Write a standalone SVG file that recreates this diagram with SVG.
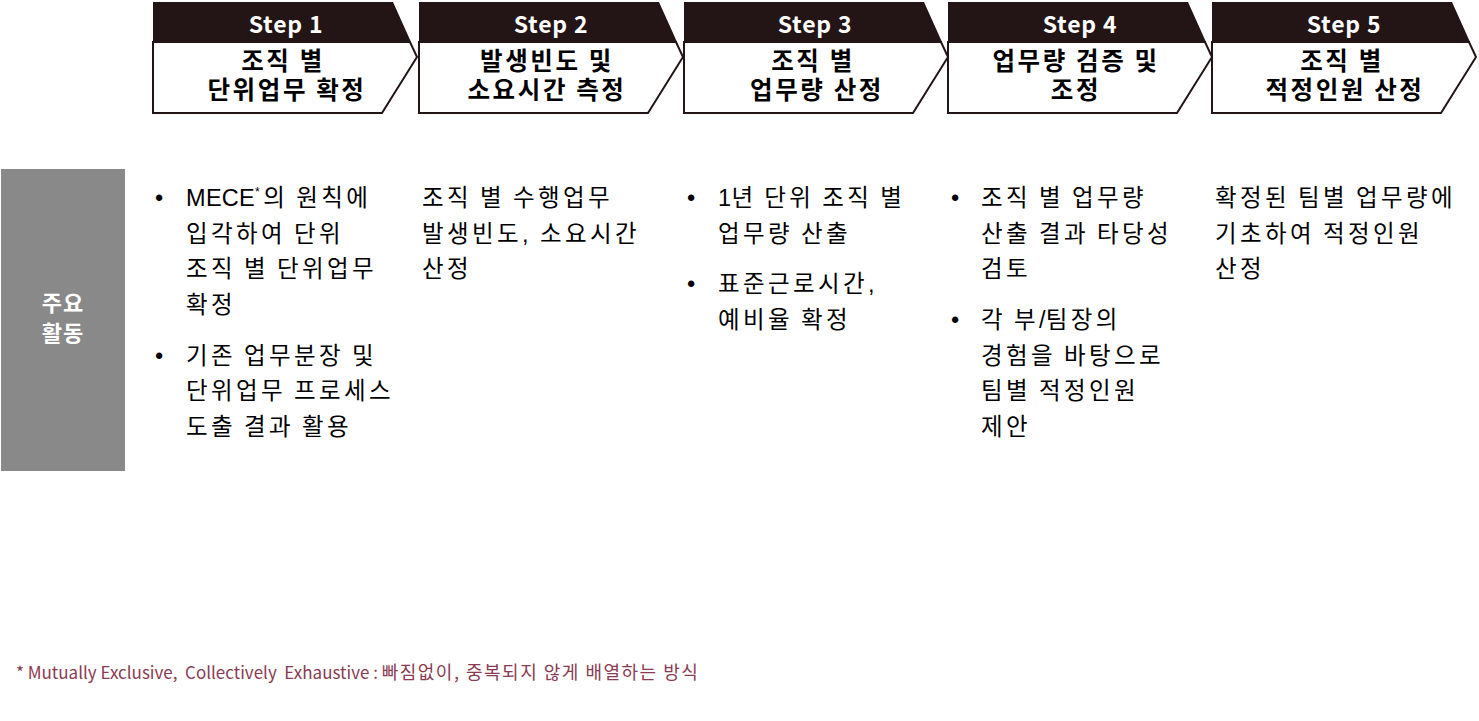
<svg xmlns="http://www.w3.org/2000/svg" width="1479" height="721" viewBox="0 0 1479 721">
<style>
.band{fill:#231416;}
.body{fill:#ffffff;stroke:#231416;stroke-width:2;}
.stepno{font-family:"Noto Sans CJK KR","Liberation Sans",sans-serif;font-weight:bold;font-size:23px;letter-spacing:0.8px;fill:#ffffff;text-anchor:middle;}
.title{font-family:"Noto Sans CJK KR","Liberation Sans",sans-serif;font-weight:bold;font-size:24.5px;letter-spacing:2.6px;fill:#000000;text-anchor:middle;}
.txt{font-family:"Liberation Sans","Noto Sans CJK KR",sans-serif;font-size:23.5px;letter-spacing:3.4px;word-spacing:-2px;fill:#000000;}
.lat{letter-spacing:0.3px;}
.lbl{font-family:"Noto Sans CJK KR","Liberation Sans",sans-serif;font-weight:bold;font-size:22px;letter-spacing:1px;fill:#ffffff;text-anchor:middle;}
.note{font-family:"Noto Sans CJK KR","Liberation Sans",sans-serif;font-size:17px;fill:#8a3b52;white-space:pre;}
.notek{font-size:18px;letter-spacing:1.5px;}
</style>
<rect width="1479" height="721" fill="#ffffff"/>

<g id="step1">
<polygon class="band" points="153,2 393,2 411,42 153,42"/>
<polygon class="body" points="153,42 410,42 417,57 382,113 153,113"/>
<text class="stepno" x="286" y="33">Step 1</text>
<text class="title"><tspan x="283" y="70">조직 별</tspan><tspan x="287" y="99">단위업무 확정</tspan></text>
</g>
<g id="step2">
<polygon class="band" points="419,2 659,2 677,42 419,42"/>
<polygon class="body" points="419,42 676,42 683,57 648,113 419,113"/>
<text class="stepno" x="551" y="33">Step 2</text>
<text class="title"><tspan x="547" y="70">발생빈도 및</tspan><tspan x="547" y="99">소요시간 측정</tspan></text>
</g>
<g id="step3">
<polygon class="band" points="684,2 924,2 942,42 684,42"/>
<polygon class="body" points="684,42 941,42 948,57 913,113 684,113"/>
<text class="stepno" x="815" y="33">Step 3</text>
<text class="title"><tspan x="813" y="70">조직 별</tspan><tspan x="817" y="99">업무량 산정</tspan></text>
</g>
<g id="step4">
<polygon class="band" points="948,2 1188,2 1206,42 948,42"/>
<polygon class="body" points="948,42 1205,42 1212,57 1177,113 948,113"/>
<text class="stepno" x="1080" y="33">Step 4</text>
<text class="title"><tspan x="1076" y="70">업무량 검증 및</tspan><tspan x="1076" y="99">조정</tspan></text>
</g>
<g id="step5">
<polygon class="band" points="1212,2 1452,2 1470,42 1212,42"/>
<polygon class="body" points="1212,42 1469,42 1476,57 1441,113 1212,113"/>
<text class="stepno" x="1344" y="33">Step 5</text>
<text class="title"><tspan x="1342" y="70">조직 별</tspan><tspan x="1345" y="99">적정인원 산정</tspan></text>
</g>

<g id="label">
<rect x="1" y="169" width="124" height="302" fill="#898989"/>
<text class="lbl"><tspan x="63" y="311">주요</tspan><tspan x="63" y="341">활동</tspan></text>
</g>

<g id="activities1">
<text class="txt" x="155" y="206">•</text>
<text class="txt" x="186" y="206"><tspan class="lat">MECE</tspan><tspan font-size="12" dy="-10">*</tspan><tspan dy="10">의 원칙에</tspan></text>
<text class="txt" x="186" y="242">입각하여 단위</text>
<text class="txt" x="186" y="277">조직 별 단위업무</text>
<text class="txt" x="186" y="313">확정</text>
<text class="txt" x="155" y="364">•</text>
<text class="txt" x="186" y="364">기존 업무분장 및</text>
<text class="txt" x="186" y="399">단위업무 프로세스</text>
<text class="txt" x="186" y="435">도출 결과 활용</text>
</g>
<g id="activities2">
<text class="txt" x="422" y="206">조직 별 수행업무</text>
<text class="txt" x="422" y="242">발생빈도, 소요시간</text>
<text class="txt" x="422" y="277">산정</text>
</g>
<g id="activities3">
<text class="txt" x="687" y="206">•</text>
<text class="txt" x="718" y="206"><tspan class="lat">1</tspan>년 단위 조직 별</text>
<text class="txt" x="718" y="242">업무량 산출</text>
<text class="txt" x="687" y="292">•</text>
<text class="txt" x="718" y="292">표준근로시간,</text>
<text class="txt" x="718" y="328">예비율 확정</text>
</g>
<g id="activities4">
<text class="txt" x="951" y="206">•</text>
<text class="txt" x="981" y="206">조직 별 업무량</text>
<text class="txt" x="981" y="242">산출 결과 타당성</text>
<text class="txt" x="981" y="277">검토</text>
<text class="txt" x="951" y="328">•</text>
<text class="txt" x="981" y="328">각 부<tspan class="lat">/</tspan>팀장의</text>
<text class="txt" x="981" y="364">경험을 바탕으로</text>
<text class="txt" x="981" y="399">팀별 적정인원</text>
<text class="txt" x="981" y="435">제안</text>
</g>
<g id="activities5">
<text class="txt" x="1215" y="206">확정된 팀별 업무량에</text>
<text class="txt" x="1215" y="242">기초하여 적정인원</text>
<text class="txt" x="1215" y="277">산정</text>
</g>

<g id="footnote">
<text class="note" x="16" y="679">* Mutually Exclusive,  Collectively  Exhaustive : <tspan class="notek">빠짐없이, 중복되지 않게 배열하는 방식</tspan></text>
</g>
</svg>
